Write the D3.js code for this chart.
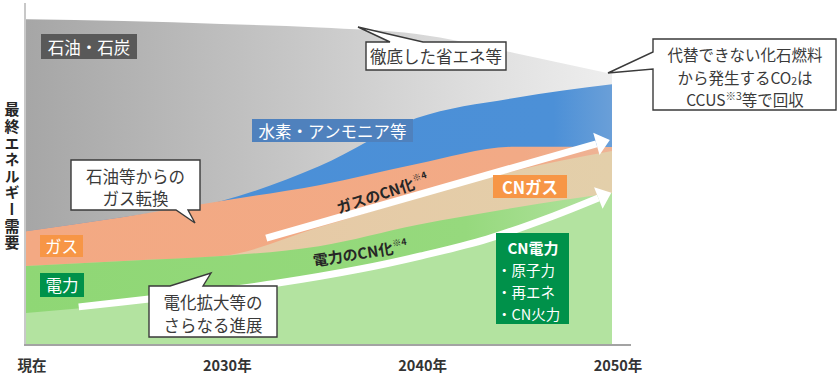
<!DOCTYPE html>
<html>
<head>
<meta charset="utf-8">
<script src="https://cdn.jsdelivr.net/npm/d3@7"></script>
<style>
  body { margin: 0; background: #fff; }
  svg { display: block; font-family: "Noto Sans CJK JP", "Noto Sans", sans-serif; }
</style>
</head>
<body>
<svg id="chart" width="840" height="376"></svg>
<script>
// final energy demand, index (present = 100)
const years = [2020, 2025, 2030, 2035, 2040, 2045, 2050];
const cnPower = [9.8, 12.6, 16.0, 20.2, 26.4, 34.7, 45.7];
const fossilPower = [14.4, 13.2, 11.3, 10.1, 10.4, 7.4, 0.9];
const cnGas = [0, 0, 0, 5.8, 8.3, 11.3, 12.9];
const fossilGas = [10.7, 13.5, 16.9, 12.9, 10.4, 7.4, 1.2];
const hydrogen = [0, 0, 0, 5.8, 14.1, 15.0, 19.3];
const oilCoal = [65.0, 60.1, 54.3, 42.6, 25.8, 13.8, 3.1];

const tickYears = [2020, 2030, 2040, 2050];
const tickLabels = ["現在", "2030年", "2040年", "2050年"];

// arrows, in [year, index]
const gasArrow = [[2032.3, 32.8], [2049.2, 61.7]];
const powerArrow = [[2022.7, 11.7], [2026.3, 14.1], [2029.9, 16.6], [2032.9, 19.0],
                    [2037.1, 23.3], [2040.2, 27.3], [2043.6, 32.5], [2047.0, 39.6], [2049.3, 45.1]];

const keys = ["cnPower", "fossilPower", "cnGas", "fossilGas", "hydrogen", "oilCoal"];
const rows = years.map((yr, i) => ({
    year: yr,
    cnPower: cnPower[i],
    fossilPower: fossilPower[i],
    cnGas: cnGas[i],
    fossilGas: fossilGas[i],
    hydrogen: hydrogen[i],
    oilCoal: oilCoal[i]
}));

const svg = d3.select("#chart");

const x = d3.scaleLinear().domain([2020, 2050]).range([26, 612]),
      y = d3.scaleLinear().domain([0, 100]).range([345, 19]);

// gradients
const defs = svg.append("defs");
const hGrad = function (id, stops) {
    const g = defs.append("linearGradient")
        .attr("id", id)
        .attr("gradientUnits", "userSpaceOnUse")
        .attr("x1", x(2020)).attr("x2", x(2050))
        .attr("y1", 0).attr("y2", 0);
    stops.forEach(s => g.append("stop").attr("offset", s[0]).attr("stop-color", s[1]));
};
hGrad("gOil", [[0, "#a6a6a6"], [0.45, "#c6c6c6"], [0.75, "#dddddd"], [1, "#eeeeee"]]);
hGrad("gPower", [[0, "#8fd775"], [0.75, "#96d97d"], [1, "#b3e2a0"]]);
hGrad("gGas", [[0, "#f3a983"], [0.85, "#f2aa86"], [1, "#eeb496"]]);
hGrad("gCnGas", [[0, "#e9c6a3"], [1, "#e3cfaa"]]);
hGrad("gH2", [[0, "#4a8fd7"], [0.9, "#4c90d7"], [1, "#6a9fd8"]]);

const fills = {
    cnPower: "#b3e3a0",
    fossilPower: "url(#gPower)",
    cnGas: "url(#gCnGas)",
    fossilGas: "url(#gGas)",
    hydrogen: "url(#gH2)",
    oilCoal: "url(#gOil)"
};

const series = d3.stack().keys(keys)(rows);

// each layer is painted from the baseline up, top layer first, so no seams show
const area = d3.area()
    .x(d => x(d.data.year))
    .y0(y(0))
    .y1(d => y(d[1]))
    .curve(d3.curveMonotoneX);

svg.append("g")
    .selectAll("path")
    .data(series.slice().reverse())
    .join("path")
    .attr("fill", d => fills[d.key])
    .attr("d", area);

// axes lines
svg.append("line")
    .attr("x1", 25).attr("x2", 25)
    .attr("y1", 3).attr("y2", 345)
    .attr("stroke", "#c8c8c8").attr("stroke-width", 2);
svg.append("line")
    .attr("x1", 24).attr("x2", 631)
    .attr("y1", 345).attr("y2", 345)
    .attr("stroke", "#a3a3a3").attr("stroke-width", 2);

// white arrows
const drawArrow = function (pts, curve) {
    const p = pts.map(d => [x(d[0]), y(d[1])]);
    svg.append("path")
        .attr("d", d3.line().curve(curve)(p))
        .attr("fill", "none")
        .attr("stroke", "#fff")
        .attr("stroke-width", 7);

    const a = p[p.length - 2], b = p[p.length - 1],
          len = Math.hypot(b[0] - a[0], b[1] - a[1]),
          ux = (b[0] - a[0]) / len, uy = (b[1] - a[1]) / len,
          headLen = 14, headHalf = 11.5;
    const tip = [b[0] + ux * headLen, b[1] + uy * headLen],
          c1 = [b[0] - uy * headHalf, b[1] + ux * headHalf],
          c2 = [b[0] + uy * headHalf, b[1] - ux * headHalf];
    svg.append("path")
        .attr("d", "M" + [tip, c1, c2].map(q => q.join(",")).join("L") + "Z")
        .attr("fill", "#fff");
};
drawArrow(gasArrow, d3.curveLinear);
drawArrow(powerArrow, d3.curveCatmullRom);

// text riding on the arrows
const slantLabel = function (cx, cy, angle, main, sup) {
    const t = svg.append("text")
        .attr("transform", "translate(" + cx + "," + cy + ") rotate(" + angle + ")")
        .attr("text-anchor", "middle")
        .attr("font-size", 15)
        .attr("font-weight", "bold")
        .attr("fill", "#262626");
    t.append("tspan").text(main);
    t.append("tspan").attr("font-size", 9).attr("dy", -7).text(sup);
};
slantLabel(384, 199, -18, "ガスのCN化", "※4");
slantLabel(361, 259, -9, "電力のCN化", "※4");

// coloured label boxes
const labelBox = function (x0, y0, w, h, color, text, weight) {
    svg.append("rect")
        .attr("x", x0).attr("y", y0)
        .attr("width", w).attr("height", h)
        .attr("fill", color);
    svg.append("text")
        .attr("x", x0 + w / 2).attr("y", y0 + h / 2)
        .attr("dominant-baseline", "central")
        .attr("text-anchor", "middle")
        .attr("font-size", 16.5)
        .attr("font-weight", weight || "normal")
        .attr("fill", "#fff")
        .text(text);
};
labelBox(41, 34, 96, 25, "#595959", "石油・石炭");
labelBox(252, 119, 161, 23, "#4f81bd", "水素・アンモニア等");
labelBox(40, 235, 43, 22, "#f79646", "ガス");
labelBox(40, 273, 44, 24, "#00914a", "電力");
labelBox(493, 175, 74, 23, "#f79646", "CNガス", "bold");

// CN power box with its list
svg.append("rect")
    .attr("x", 496).attr("y", 233)
    .attr("width", 73).attr("height", 91)
    .attr("fill", "#00914a");
svg.append("text")
    .attr("x", 533).attr("y", 247)
    .attr("dominant-baseline", "central")
    .attr("text-anchor", "middle")
    .attr("font-size", 15).attr("font-weight", "bold")
    .attr("fill", "#fff")
    .text("CN電力");
["・原子力", "・再エネ", "・CN火力"].forEach(function (s, i) {
    svg.append("text")
        .attr("x", 497).attr("y", 269 + i * 22)
        .attr("dominant-baseline", "central")
        .attr("font-size", 14.5)
        .attr("fill", "#fff")
        .text(s);
});

// speech-bubble callouts
const callout = function (c) {
    const x0 = c.x, y0 = c.y, x1 = c.x + c.w, y1 = c.y + c.h, t = c.tail;
    var pts;
    if (c.side === "top") {
        pts = [[x0, y0], [t[0], y0], t[1], [t[2], y0], [x1, y0], [x1, y1], [x0, y1]];
    } else if (c.side === "bottom") {
        pts = [[x0, y0], [x1, y0], [x1, y1], [t[2], y1], t[1], [t[0], y1], [x0, y1]];
    } else {
        pts = [[x0, y0], [x1, y0], [x1, y1], [x0, y1], [x0, t[2]], t[1], [x0, t[0]]];
    }
    svg.append("path")
        .attr("d", "M" + pts.map(q => q.join(",")).join("L") + "Z")
        .attr("fill", "#fff")
        .attr("stroke", "#3a3a3a")
        .attr("stroke-width", 1.4)
        .attr("stroke-linejoin", "miter");

    c.lines.forEach(function (line, i) {
        const txt = svg.append("text")
            .attr("x", c.cx).attr("y", c.cy[i])
            .attr("dominant-baseline", "central")
            .attr("text-anchor", "middle")
            .attr("font-size", c.size || 16.5)
            .attr("fill", "#3a3a3a");
        line.forEach(function (part) {
            const sp = txt.append("tspan").text(part.s);
            if (part.sub) sp.attr("font-size", 10.5).attr("dy", 3);
            if (part.sup) sp.attr("font-size", 10.5).attr("dy", -4);
            if (part.back) sp.attr("dy", part.back);
        });
    });
};

callout({
    x: 366, y: 42, w: 140, h: 28, side: "top",
    tail: [390, [358, 27], 423],
    cx: 436, cy: [56],
    lines: [[{ s: "徹底した省エネ等" }]]
});
callout({
    x: 653, y: 39, w: 183, h: 71, side: "left",
    tail: [52, [608, 73], 69],
    cx: 745, cy: [54, 76.5, 99], size: 15.5,
    lines: [
        [{ s: "代替できない化石燃料" }],
        [{ s: "から発生するCO" }, { s: "2", sub: true }, { s: "は", back: -3 }],
        [{ s: "CCUS" }, { s: "※3", sup: true }, { s: "等で回収", back: 4 }]
    ]
});
callout({
    x: 71, y: 160, w: 129, h: 50, side: "bottom",
    tail: [176, [195, 223], 188],
    cx: 135.5, cy: [176, 198],
    lines: [[{ s: "石油等からの" }], [{ s: "ガス転換" }]]
});
callout({
    x: 149, y: 286, w: 128, h: 51, side: "top",
    tail: [170, [211, 273], 203],
    cx: 213, cy: [302, 324.5],
    lines: [[{ s: "電化拡大等の" }], [{ s: "さらなる進展" }]]
});

// x tick labels
svg.append("g")
    .selectAll("text")
    .data(tickYears)
    .join("text")
    .attr("x", d => x(d) + 6)
    .attr("y", 371)
    .attr("text-anchor", "middle")
    .attr("font-size", 14.5)
    .attr("font-weight", "bold")
    .attr("fill", "#333")
    .text((d, i) => tickLabels[i]);

// vertical y title
svg.append("text")
    .attr("x", 12).attr("y", 177)
    .attr("text-anchor", "middle")
    .style("writing-mode", "vertical-rl")
    .attr("font-size", 15)
    .attr("font-weight", "bold")
    .attr("letter-spacing", 1.6)
    .attr("fill", "#262626")
    .text("最終エネルギー需要");
</script>
</body>
</html>
